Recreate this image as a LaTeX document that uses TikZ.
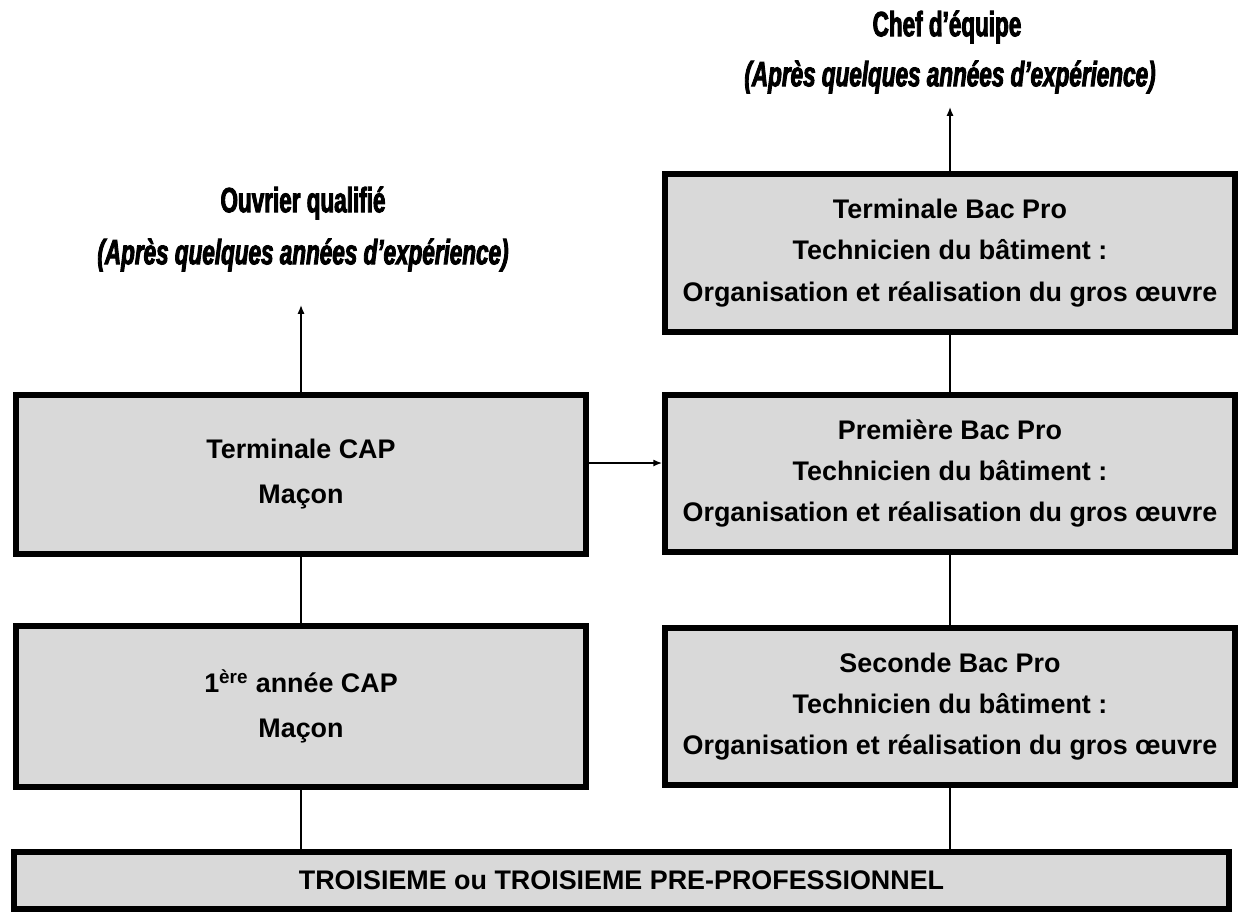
\documentclass[tikz,border=0pt]{standalone}
\usepackage{fontspec}
\setmainfont{Liberation Sans}
\newfontfamily\titlefont[FakeStretch=0.64,FakeBold=2.5]{Liberation Sans}
\usetikzlibrary{arrows.meta}
\definecolor{boxgray}{HTML}{D9D9D9}

\tikzset{
	classe/.style={draw, line width=3.4pt, fill=boxgray, align=center,
		font=\fontsize{15.3}{23.4}\selectfont\bfseries,
		minimum width=11.4cm, minimum height=3.16cm, inner sep=0pt},
	classecap/.style={classe, font=\fontsize{15.3}{25.6}\selectfont\bfseries},
	debouche/.style={align=center, inner sep=0pt, font=\titlefont\fontsize{20}{20}\selectfont\bfseries},
	lien/.style={line width=0.8pt},
	fleche/.style={line width=0.8pt, -{Latex[length=5pt,width=4pt]}}
}

\begin{document}
\begin{tikzpicture}[x=0.02cm, y=-0.02cm]
			\useasboundingbox (0,0) rectangle (1239,913);

			% Debouches
			\node[debouche] (chef) at (947,27) {Chef d’équipe};
			\node[debouche] (chefxp) at (950,77) {\itshape (Après quelques années d’expérience)};
			\node[debouche] (ouvrier) at (303,203) {Ouvrier qualifié};
			\node[debouche] (ouvrierxp) at (303,255) {\itshape (Après quelques années d’expérience)};
			\coordinate (versouvrier) at (301,305);
			\coordinate (verschef) at (950,107);

			% Voie CAP
			\node[classecap, minimum height=3.18cm] (tcap) at (301,474.5) {Terminale CAP\\Maçon};
			\node[classecap, minimum height=3.22cm] (pcap) at (301,706.5) {1\textsuperscript{ère} année CAP\\Maçon};

			% Voie Bac Pro
			\node[classe] (tbac) at (950,253) {Terminale Bac Pro\\Technicien du bâtiment :\\Organisation et réalisation du gros œuvre};
			\node[classe, minimum height=3.14cm] (pbac) at (950,473.5) {Première Bac Pro\\Technicien du bâtiment :\\Organisation et réalisation du gros œuvre};
			\node[classe, minimum height=3.14cm] (sbac) at (950,706.5) {Seconde Bac Pro\\Technicien du bâtiment :\\Organisation et réalisation du gros œuvre};

			% Troisieme
			\node[classe, minimum width=24.3cm, minimum height=1.14cm] (troisieme) at (621.5,880.5) {TROISIEME ou TROISIEME PRE-PROFESSIONNEL};

			% Liaisons
			\draw[lien] (tcap.south) -- (pcap.north);
			\draw[lien] (pcap.south) -- (pcap.south |- troisieme.north);
			\draw[lien] (tbac.south) -- (pbac.north);
			\draw[lien] (pbac.south) -- (sbac.north);
			\draw[lien] (sbac.south) -- (sbac.south |- troisieme.north);

			% Fleches
			\coordinate (capsortie) at ([yshift=0.23cm]tcap.east);
			\draw[fleche] (tcap.north) -- (versouvrier);
			\draw[fleche] (tbac.north) -- (verschef);
			\draw[fleche] (capsortie) -- (capsortie -| pbac.west);
		\end{tikzpicture}
\end{document}
